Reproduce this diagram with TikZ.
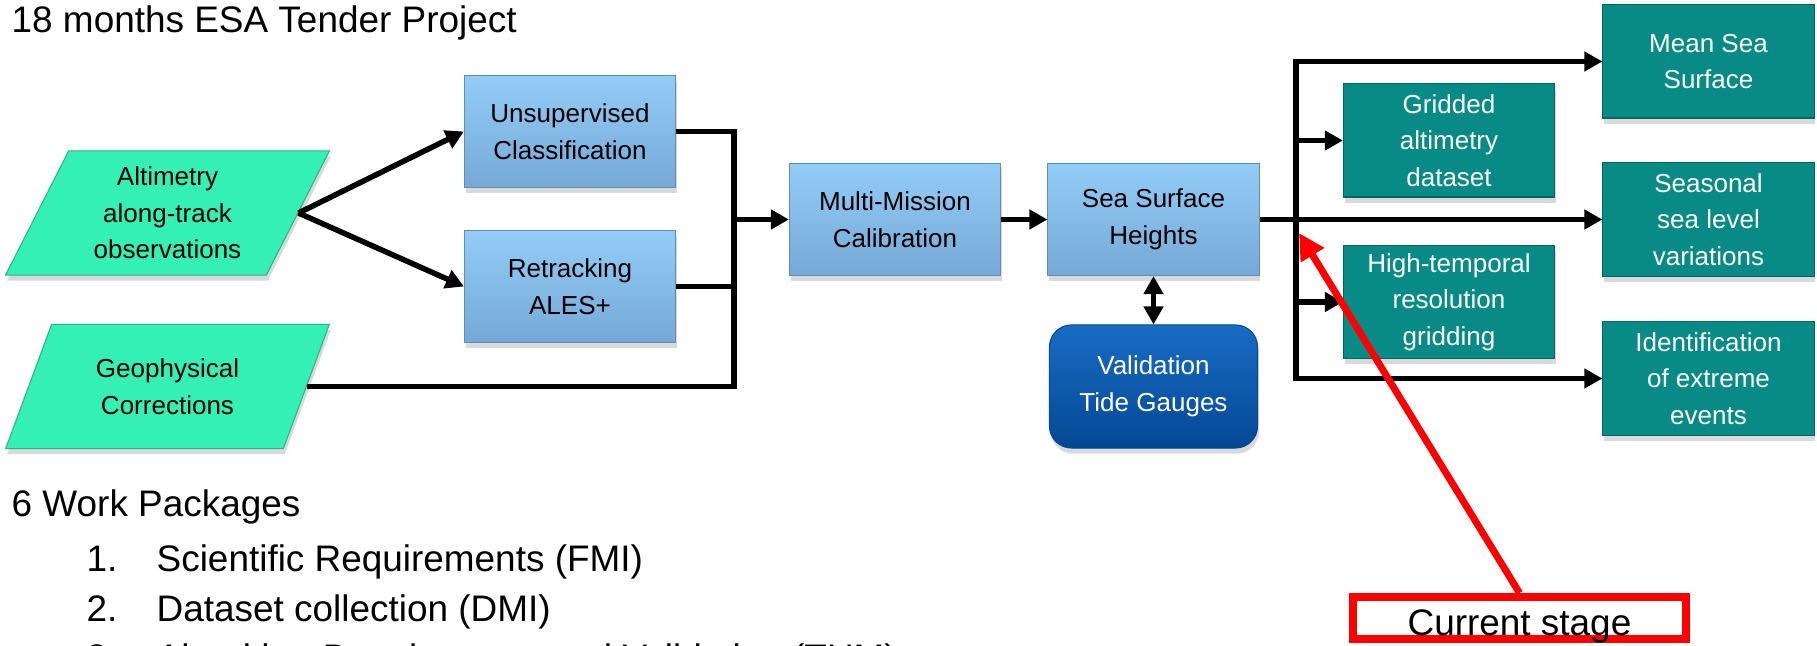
\documentclass[tikz,border=0pt]{standalone}
\usepackage{fontspec}
\setmainfont{Liberation Sans}
\usetikzlibrary{shapes.geometric,arrows.meta,shadows}

\definecolor{inputgreen}{RGB}{52,240,180}
\definecolor{proctop}{RGB}{146,205,247}
\definecolor{procbottom}{RGB}{118,168,214}
\definecolor{procedge}{RGB}{95,140,185}
\definecolor{outteal}{RGB}{8,138,134}
\definecolor{outedge}{RGB}{4,100,96}
\definecolor{validtop}{RGB}{24,108,196}
\definecolor{validbottom}{RGB}{4,72,148}
\definecolor{stagered}{RGB}{255,0,0}

\newcommand{\diagfont}{\fontsize{7.4}{10.4}\selectfont}
\newcommand{\listfont}{\fontsize{10.5}{12.6}\selectfont}

\begin{document}
\begin{tikzpicture}[x=0.01cm,y=-0.01cm]
	\tikzstyle{input_i} = [trapezium, trapezium left angle=63, trapezium right angle=117, trapezium stretches=true, minimum width=3.25cm, minimum height=1.24cm, inner sep=0pt, fill=inputgreen, draw=inputgreen!75!black, line width=0.3pt, drop shadow={shadow xshift=0.4pt, shadow yshift=-1.6pt, opacity=0.3}, align=center, font=\diagfont]
	\tikzstyle{proc_i} = [rectangle, minimum width=2.11cm, minimum height=1.12cm, inner sep=0pt, top color=proctop, bottom color=procbottom, draw=procedge, line width=0.3pt, drop shadow={shadow xshift=0.4pt, shadow yshift=-1.6pt, opacity=0.3}, align=center, font=\diagfont]
	\tikzstyle{out_i} = [rectangle, minimum width=2.11cm, minimum height=1.13cm, inner sep=0pt, fill=outteal, draw=outedge, line width=0.3pt, text=white, drop shadow={shadow xshift=0.4pt, shadow yshift=-1.6pt, opacity=0.3}, align=center, font=\diagfont]
	\tikzstyle{valid_i} = [rectangle, rounded corners=0.22cm, minimum width=2.08cm, minimum height=1.23cm, inner sep=0pt, top color=validtop, bottom color=validbottom, draw=validbottom, line width=0.3pt, text=white, drop shadow={shadow xshift=0.4pt, shadow yshift=-1.6pt, opacity=0.3}, align=center, font=\diagfont]
	\tikzstyle{plain_text} = [inner sep=0pt, anchor=base west, font=\listfont]
	\tikzstyle{stage_box} = [draw=stagered, line width=0.08cm, fill=white, minimum width=3.33cm, minimum height=0.42cm, inner sep=0pt, text height=0.34cm, text depth=0pt, font=\listfont]
	\tikzstyle{edge} = [line width=0.055cm]
	\tikzstyle{arrow} = [edge, -{Triangle[length=0.18cm,width=0.19cm]}]
	\tikzstyle{biarrow} = [edge, {Triangle[length=0.18cm,width=0.19cm]}-{Triangle[length=0.18cm,width=0.19cm]}]
	\tikzstyle{red_arrow} = [line width=0.07cm, draw=stagered, -{Triangle[length=0.26cm,width=0.26cm]}]
	\def\barL{734}
	\def\barR{1296}

	\useasboundingbox (0,0) rectangle (1817,646);

	\node[plain_text] (title) at (11,33) {18 months ESA Tender Project};

	% inputs
	\foreach \name/\y/\lbl in {alt/213/{Altimetry\\along-track\\observations}, geo/386.5/{Geophysical\\Corrections}}
		\node[input_i] (\name) at (167.5,\y) {\lbl};

	% processing chain
	\foreach \name/\x/\y/\lbl in {uns/570/131.5/{Unsupervised\\Classification}, ret/570/286.5/{Retracking\\ALES+}, mmc/895/219.5/{Multi-Mission\\Calibration}, ssh/1153.5/219.5/{Sea Surface\\Heights}}
		\node[proc_i] (\name) at (\x,\y) {\lbl};

	\node[valid_i] (vtg) at (1153.5,386.5) {Validation\\Tide Gauges};

	% products
	\foreach \name/\x/\y/\lbl in {grid/1449/140.5/{Gridded\\altimetry\\dataset}, hitemp/1449/302/{High-temporal\\resolution\\gridding}, mss/1708.5/61.5/{Mean Sea\\Surface}, seas/1708.5/219.5/{Seasonal\\sea level\\variations}, ident/1708.5/378.5/{Identification\\of extreme\\events}}
		\node[out_i] (\name) at (\x,\y) {\lbl};

	\draw[arrow] (alt.east) -- (uns.west);
	\draw[arrow] (alt.east) -- (ret.west);

	\coordinate (join) at (\barL,219.5);
	\foreach \from in {uns, ret, geo}
		\draw[edge] (\from.east) -| (join);
	\draw[arrow] (join) -- (mmc.west);
	\draw[arrow] (mmc) -- (ssh);
	\draw[biarrow] (ssh) -- (vtg);
	\draw[arrow] (ssh) -- (seas);

	\coordinate (fork) at (\barR,219.5);
	\foreach \to in {mss, grid, hitemp, ident}
		\draw[arrow] (fork) |- (\to.west);

	% work packages
	\node[plain_text] (wp) at (11,517) {6 Work Packages};
	\foreach \i/\y/\lbl in {1/572/Scientific Requirements (FMI), 2/622/Dataset collection (DMI), 3/671/Algorithm Development and Validation (TUM)} {
		\node[plain_text] (wp_num\i) at (86,\y) {\i.};
		\node[plain_text] (wp_\i) at (156,\y) {\lbl};
	}

	% current stage marker
	\node[stage_box] (stage) at (1519.5,618) {Current stage};
	\coordinate (tip) at (1299,233);
	\draw[red_arrow] (stage.north) -- (tip);
\end{tikzpicture}
\end{document}
